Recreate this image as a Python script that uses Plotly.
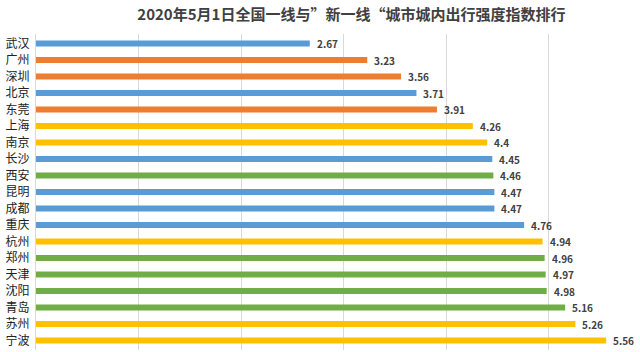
import plotly.graph_objects as go

cities = ["武汉", "广州", "深圳", "北京", "东莞", "上海", "南京", "长沙", "西安", "昆明",
          "成都", "重庆", "杭州", "郑州", "天津", "沈阳", "青岛", "苏州", "宁波"]
values = [2.67, 3.23, 3.56, 3.71, 3.91, 4.26, 4.4, 4.45, 4.46, 4.47,
          4.47, 4.76, 4.94, 4.96, 4.97, 4.98, 5.16, 5.26, 5.56]
labels = ["2.67", "3.23", "3.56", "3.71", "3.91", "4.26", "4.4", "4.45", "4.46", "4.47",
          "4.47", "4.76", "4.94", "4.96", "4.97", "4.98", "5.16", "5.26", "5.56"]
groups = ["b", "o", "o", "b", "o", "y", "y", "b", "g", "b",
          "b", "b", "y", "g", "g", "g", "g", "y", "y"]
palette = {"b": "#5B9BD5", "o": "#ED7D31", "y": "#FFC000", "g": "#70AD47"}
colors = [palette[g] for g in groups]

fig = go.Figure()
fig.add_trace(go.Bar(
    x=values, y=cities, orientation="h",
    marker=dict(color=colors, line=dict(width=0)),
    hoverinfo="skip",
))
for c, v, t in zip(cities, values, labels):
    fig.add_annotation(x=v, y=c, text="<b>" + t + "</b>", showarrow=False, xanchor="left",
                       xshift=5, font=dict(size=10, color="#404040",
                                           family="Noto Sans CJK SC"),
                       )

fig.update_layout(
    width=640, height=352,
    margin=dict(l=36, r=0, t=34, b=2),
    paper_bgcolor="white", plot_bgcolor="white",
    bargap=0.64,
    showlegend=False,
    title=dict(text="<b>2020年5月1日全国一线与”新一线“城市城内出行强度指数排行</b>",
               x=0.549, xanchor="center", y=0.958, yanchor="middle",
               font=dict(size=15, color="#404040", family="Noto Sans CJK SC")),
    xaxis=dict(range=[0, 5.89], dtick=1, showgrid=True, gridcolor="#D9D9D9",
               gridwidth=1, zeroline=False, showticklabels=False, ticks="",
               fixedrange=True),
    yaxis=dict(autorange="reversed", showgrid=False, zeroline=False,
               showline=True, linecolor="#D9D9D9", linewidth=1,
               ticks="", ticklabelstandoff=3,
               tickfont=dict(size=12, color="#222222", family="Noto Sans CJK SC")),
)

fig.write_html("out.html")
